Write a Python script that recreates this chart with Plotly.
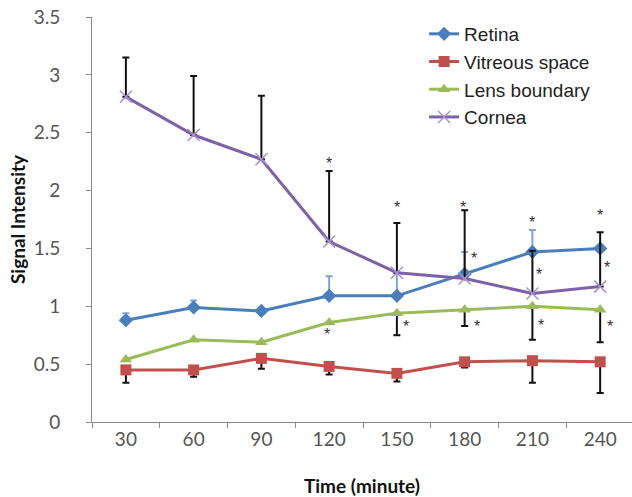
import plotly.graph_objects as go

times = ["30", "60", "90", "120", "150", "180", "210", "240"]

retina = [0.88, 0.99, 0.96, 1.09, 1.09, 1.28, 1.47, 1.50]
retina_err = [0.06, 0.06, 0.02, 0.17, 0.20, 0.19, 0.19, 0.0]

vitreous = [0.45, 0.45, 0.55, 0.48, 0.42, 0.52, 0.53, 0.52]
vitreous_err = [0.11, 0.06, 0.09, 0.07, 0.07, 0.05, 0.19, 0.27]

lens = [0.54, 0.71, 0.69, 0.86, 0.94, 0.97, 1.00, 0.97]
lens_err = [0, 0, 0, 0, 0.19, 0.14, 0.29, 0.28]

cornea = [2.81, 2.48, 2.27, 1.56, 1.29, 1.24, 1.11, 1.17]
cornea_err = [0.34, 0.51, 0.55, 0.61, 0.43, 0.59, 0.37, 0.47]

zeros = [0] * len(times)

star_x = ["120", "150", "180", "210", "240", "180", "210", "240",
          "120", "150", "180", "210", "240"]
star_y = [2.27, 1.89, 1.89, 1.76, 1.82, 1.45, 1.31, 1.37,
          0.79, 0.86, 0.86, 0.87, 0.86]
star_dx = [0, 0, -2, 0, 0, 9, 7, 7, -2, 9, 12, 9, 10]

y_ticks = [0, 0.5, 1, 1.5, 2, 2.5, 3, 3.5]
y_ticktext = ["0", "0.5", "1", "1.5", "2", "2.5", "3", "3.5"]

fig = go.Figure()

fig.add_trace(go.Scatter(
    x=times, y=retina, name="Retina", mode="lines+markers",
    line=dict(color="#4a7ebb", width=3),
    marker=dict(symbol="diamond", size=11, color="#4a7ebb"),
    error_y=dict(type="data", symmetric=False, array=retina_err, arrayminus=zeros,
                 color="#7fa6d6", thickness=2, width=3.5),
))
fig.add_trace(go.Scatter(
    x=times, y=vitreous, name="Vitreous space", mode="lines+markers",
    line=dict(color="#c0504d", width=3),
    marker=dict(symbol="square", size=11, color="#c0504d"),
    error_y=dict(type="data", symmetric=False, array=zeros, arrayminus=vitreous_err,
                 color="#111111", thickness=2, width=3.5),
))
fig.add_trace(go.Scatter(
    x=times, y=lens, name="Lens boundary", mode="lines+markers",
    line=dict(color="#9bbb59", width=3),
    marker=dict(symbol="triangle-up", size=11, color="#9bbb59"),
    error_y=dict(type="data", symmetric=False, array=zeros, arrayminus=lens_err,
                 color="#111111", thickness=2, width=3.5),
))
fig.add_trace(go.Scatter(
    x=times, y=cornea, name="Cornea", mode="lines+markers",
    line=dict(color="#7e62a8", width=3),
    marker=dict(symbol="x-thin", size=12, line=dict(color="#a992cc", width=1.5)),
    error_y=dict(type="data", symmetric=False, array=cornea_err, arrayminus=zeros,
                 color="#111111", thickness=2, width=3.5),
))

for sx, sy, dx in zip(star_x, star_y, star_dx):
    fig.add_annotation(x=times.index(sx), y=sy, xref="x", yref="y", text="*",
                       showarrow=False, xshift=dx, yshift=-4,
                       font=dict(family="Liberation Sans", size=16, color="#333333"))

fig.update_layout(
    width=632, height=497,
    margin=dict(l=92, r=0, t=17, b=75),
    paper_bgcolor="white", plot_bgcolor="white",
    showlegend=True,
    legend=dict(x=0.615, y=1.005, xanchor="left", yanchor="top",
                bgcolor="rgba(0,0,0,0)",
                font=dict(family="Liberation Sans", size=19, color="#222222"),
                tracegroupgap=0, itemwidth=30),
    xaxis=dict(
        type="category", range=[-0.5, 7.47], automargin=False,
        showline=True, linecolor="#8a8a8a", linewidth=1,
        ticks="outside", tickson="boundaries", ticklen=5, tickcolor="#8a8a8a",
        showgrid=False, zeroline=False,
        ticklabelstandoff=0, ticklabeloverflow="allow",
        tickfont=dict(family="Lato", size=19, color="#555555"),
        title=dict(text="<b>Time (minute)</b>", standoff=30,
                   font=dict(family="Lato", size=19, color="#111111")),
    ),
    yaxis=dict(
        range=[0, 3.5], tickvals=y_ticks, ticktext=y_ticktext, automargin=False,
        showline=True, linecolor="#8a8a8a", linewidth=1,
        ticks="outside", ticklen=5, tickcolor="#8a8a8a",
        showgrid=False, zeroline=False,
        ticklabelstandoff=22, ticklabeloverflow="allow",
        tickfont=dict(family="Lato", size=19, color="#555555"),
        title=dict(text="<b>Signal Intensity</b>", standoff=3,
                   font=dict(family="Lato", size=19, color="#111111")),
    ),
)

fig.write_html("out.html",
               config={"displayModeBar": False},
               post_script="document.body.style.margin='0';")
